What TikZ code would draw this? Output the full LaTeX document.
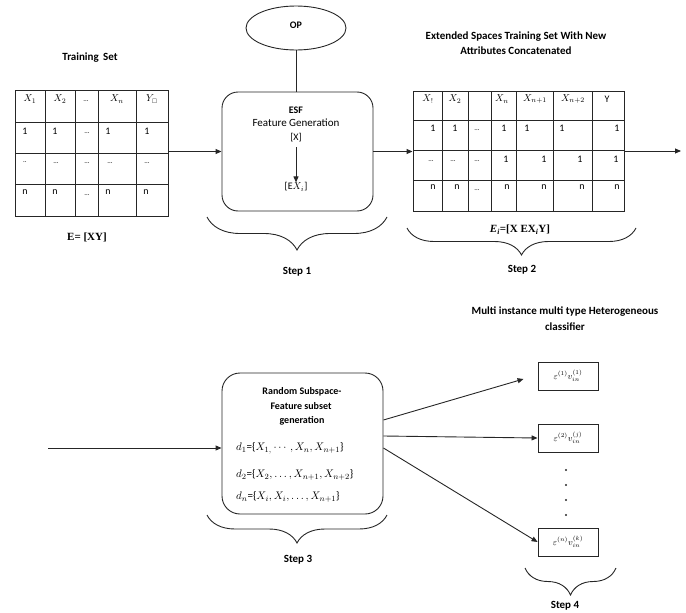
\documentclass[tikz,border=0pt]{standalone}
\usepackage{fontspec}
\setmainfont{Carlito}
\newfontfamily\timesfont{Liberation Serif}
\usepackage{amsmath,amssymb}
\usetikzlibrary{shapes.geometric,decorations.pathreplacing,arrows.meta,calc}

\begin{document}
\begin{tikzpicture}[x=1pt,y=-1pt,
  every node/.style={inner sep=0pt, font=\fontsize{11}{13}\selectfont},
  ln/.style={draw=black!85, line width=0.9pt},
  arr/.style={ln, -{Triangle[length=6pt,width=5pt]}},
  ttl/.style={font=\fontsize{11}{13}\selectfont\bfseries},
  cell/.style={font=\fontsize{10}{12}\selectfont},
  dline/.style={font=\fontsize{11}{13}\selectfont, anchor=west},
  dts/.style={font=\fontsize{7}{8}\selectfont},
  grid/.style={ln, rectangle, minimum width=#1, inner sep=0pt},
  rbox/.style={ln, rectangle, rounded corners=16pt, inner sep=0pt},
  cbox/.style={ln, rectangle, minimum width=60pt, minimum height=28pt, font=\fontsize{9}{10}\selectfont},
  brc/.style={ln, decorate, decoration={brace, mirror, amplitude=#1}},
  steplbl/.style={font=\fontsize{11}{13}\selectfont\bfseries},
  mathlbl/.style={font=\fontsize{11}{13}\selectfont\timesfont\bfseries}
]
\useasboundingbox (0,0) rectangle (686,613);

% ---------- training set table ----------
\node[ttl] (ttrain) at (90,58) {Training\, Set};
\node[grid=153pt, minimum height=126pt] (t1) at (91.5,153) {};
\foreach \x in {45,75,98,136} \draw[ln] (\x,90) -- (\x,216);
\foreach \y in {122,153,184} \draw[ln] (15,\y) -- (168,\y);
\node[cell] (a11) at (30,99) {$X_1$};
\node[cell] (a12) at (60,99) {$X_2$};
\node[dts]  (a13) at (86,101) {...};
\node[cell] (a14) at (117,99) {$X_n$};
\node[cell] (a15) at (152,99) {$Y_{\scriptscriptstyle\square}$};
\node[cell] (a21) at (25,131) {1};
\node[cell] (a22) at (55,131) {1};
\node[dts]  (a23) at (87,133) {...};
\node[cell] (a24) at (108,131) {1};
\node[cell] (a25) at (147,131) {1};
\node[dts]  (a31) at (25,162) {..};
\node[dts]  (a32) at (56,163) {...};
\node[dts]  (a33) at (87,163) {...};
\node[dts]  (a34) at (110,163) {...};
\node[dts]  (a35) at (147,163) {...};
\node[cell] (a41) at (25,192) {n};
\node[cell] (a42) at (55,192) {n};
\node[dts]  (a43) at (87,195) {...};
\node[cell] (a44) at (108,192) {n};
\node[cell] (a45) at (146,192) {n};
\node[mathlbl] (exy) at (87,237) {E= [XY]};

% ---------- ESF feature generation ----------
\node[ln, ellipse, minimum width=100pt, minimum height=44pt] (op) at (296,28) {};
\node[font=\fontsize{10}{12}\selectfont\bfseries] (optxt) at (296,25) {OP};
\node[rbox, minimum width=151pt, minimum height=119pt] (esf) at (297.5,151.5) {};
\node[font=\fontsize{10}{12}\selectfont\bfseries] (esft) at (296,110) {ESF};
\node (fgen) at (296,123) {Feature Generation};
\node[cell] (bx) at (296,138) {[X]};
\node[cell] (bex) at (296,187) {[E$X_i$]};
\draw[arr] (bx.south) ++(0,5) -- (bex.north);
\draw[ln] (op.south) -- (op.south |- esf.north);
\draw[arr] (t1.east |- esf.west) -- (esf.west);
\draw[brc=33pt] (207,217) -- (387,217);
\node[steplbl] (s1) at (297,272) {Step 1};

% ---------- extended training set ----------
\node[ttl] (text1) at (516,37) {Extended Spaces Training Set With New};
\node[ttl] (text2) at (516,51) {Attributes Concatenated};
\node[grid=211pt, minimum height=120pt] (t2) at (518.5,151) {};
\foreach \x in {442,468,491,516,553,592} \draw[ln] (\x,91) -- (\x,211);
\foreach \y in {120,150,180} \draw[ln] (413,\y) -- (624,\y);
\node[cell] (b11) at (428,99) {$X_!$};
\node[cell] (b12) at (455,99) {$X_2$};
\node[cell] (b14) at (502,99) {$X_n$};
\node[cell] (b15) at (535,99) {$X_{n+1}$};
\node[cell] (b16) at (573,99) {$X_{n+2}$};
\node[cell] (b17) at (607,99) {Y};
\node[cell] (b21) at (433,128) {1};
\node[cell] (b22) at (455,128) {1};
\node[dts]  (b23) at (477,130) {...};
\node[cell] (b24) at (504,128) {1};
\node[cell] (b25) at (527,128) {1};
\node[cell] (b26) at (562,128) {1};
\node[cell] (b27) at (617,128) {1};
\node[dts]  (b31) at (431,161) {...};
\node[dts]  (b32) at (453,161) {...};
\node[dts]  (b33) at (477,161) {...};
\node[cell] (b34) at (506,159) {1};
\node[cell] (b35) at (544,159) {1};
\node[cell] (b36) at (580,159) {1};
\node[cell] (b37) at (616,159) {1};
\node[cell] (b41) at (433,187) {n};
\node[cell] (b42) at (457,187) {n};
\node[dts]  (b43) at (477,190) {...};
\node[cell] (b44) at (507,187) {n};
\node[cell] (b45) at (544,187) {n};
\node[cell] (b46) at (582,187) {n};
\node[cell] (b47) at (617,187) {n};
\draw[arr] (esf.east) -- (esf.east -| t2.west);
\coordinate (out) at (681,151);
\draw[arr] (t2.east) -- (out);
\node[mathlbl] (ei) at (520,230) {\textit{E}\textsubscript{\textit{i}}=[X EX\textsubscript{\textit{i}}Y]};
\draw[brc=27pt] (407,228) -- (636,228);
\node[steplbl] (s2) at (522,270) {Step 2};

% ---------- random subspace ----------
\coordinate (in) at (48,448);
\node[rbox, rounded corners=18pt, minimum width=161pt, minimum height=141pt] (rs) at (302.5,443.5) {};
\node[font=\fontsize{10}{12}\selectfont\bfseries] (r1) at (302,392) {Random Subspace-};
\node[font=\fontsize{10}{12}\selectfont\bfseries] (r2) at (301,406) {Feature subset};
\node[font=\fontsize{10}{12}\selectfont\bfseries] (r3) at (302,421) {generation};
\node[dline] (d1) at (236,448) {$d_1$=\{$X_{1,}\cdots,X_n,X_{n+1}$\}};
\node[dline] (d2) at (236,475) {$d_2$=\{$X_2,\ldots,X_{n+1},X_{n+2}$\}};
\node[dline] (dn) at (236,497) {$d_n$=\{$X_i,X_i,\ldots,X_{n+1}$\}};
\draw[arr] (in) -- (in -| rs.west);
\draw[brc=28pt] (207,515) -- (387,515);
\node[steplbl] (s3) at (298,560) {Step 3};

% ---------- heterogeneous classifiers ----------
\node[ttl] (mtitle1) at (565,312) {Multi instance multi type Heterogeneous};
\node[ttl] (mtitle2) at (565,327) {classifier};
\node[cbox] (c1) at (568,376) {$\varepsilon^{(1)}v_{in}^{(1)}$};
\node[cbox] (c2) at (568,438) {$\varepsilon^{(2)}v_{in}^{(j)}$};
\node[cbox] (c3) at (568,542) {$\varepsilon^{(n)}v_{in}^{(k)}$};
\draw[arr] ($(rs.east)+(0,-23.5)$) -- ($(c1.west)+(-14,3)$);
\draw[arr] ($(rs.east)+(0,-7.5)$) -- (c2.west);
\draw[arr] ($(rs.east)+(0,4.5)$) -- (c3.west);
\foreach \y in {470,485,500,515} \fill[black!85] (566,\y) circle (1.1pt);
\draw[brc=27pt] (525,568) -- (616,568);
\node[steplbl] (s4) at (565,606) {Step 4};
\end{tikzpicture}
\end{document}
